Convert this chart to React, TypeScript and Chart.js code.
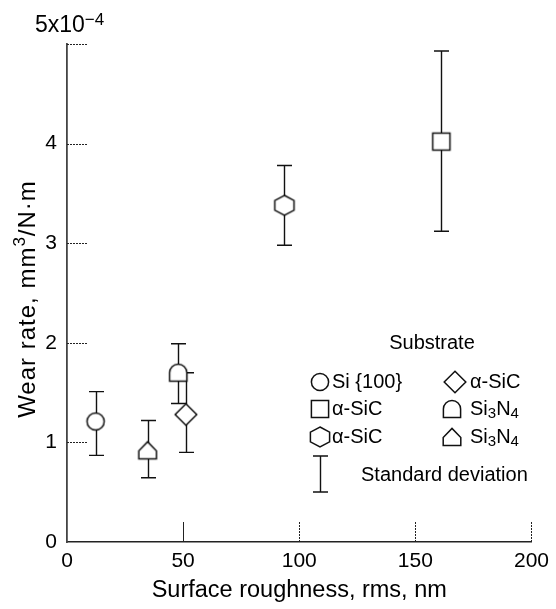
import React, { useEffect, useRef } from "react";
import { Chart, registerables } from "chart.js";

Chart.register(...registerables);

// ---- data (wear rate in units of 1e-4 mm^3/N·m) ----
const markerKinds = ["circle", "square", "hexagon", "diamond", "dome", "house"];
const substrates = ["Si {100}", "α-SiC", "α-SiC", "α-SiC", "Si3N4", "Si3N4"];
const roughness = [12.3, 161.2, 93.6, 51.2, 47.9, 34.7];
const wearRate = [1.21, 4.02, 3.38, 1.28, 1.7, 0.92];
const wearLow = [0.87, 3.12, 2.98, 0.9, 1.39, 0.645];
const wearHigh = [1.51, 4.93, 3.78, 1.7, 1.99, 1.22];
const xTicks = [0, 50, 100, 150, 200];
const yTicks = [0, 1, 2, 3, 4, 5];

const FONT = "'Liberation Sans', Arial, Helvetica, sans-serif";
const INK = "#000";

function makeMarker(kind: string): HTMLCanvasElement {
  const c = document.createElement("canvas");
  c.width = 28;
  c.height = 28;
  const g = c.getContext("2d")!;
  g.translate(14, 14);
  g.lineWidth = 1.5;
  g.strokeStyle = "#111";
  g.fillStyle = "#fff";
  g.beginPath();
  if (kind === "circle") {
    g.arc(0, 0, 8.6, 0, Math.PI * 2);
  } else if (kind === "square") {
    g.rect(-8.6, -8.6, 17.2, 17.2);
  } else if (kind === "hexagon") {
    g.moveTo(0, -10);
    g.lineTo(9.6, -4.8);
    g.lineTo(9.6, 4.8);
    g.lineTo(0, 10);
    g.lineTo(-9.6, 4.8);
    g.lineTo(-9.6, -4.8);
    g.closePath();
  } else if (kind === "diamond") {
    g.moveTo(0, -10.8);
    g.lineTo(10.8, 0);
    g.lineTo(0, 10.8);
    g.lineTo(-10.8, 0);
    g.closePath();
  } else if (kind === "dome") {
    g.moveTo(-8.6, 8.6);
    g.lineTo(-8.6, 0);
    g.arc(0, 0, 8.6, Math.PI, 0);
    g.lineTo(8.6, 8.6);
    g.closePath();
  } else if (kind === "house") {
    g.moveTo(-8.8, 8.6);
    g.lineTo(-8.8, 0.5);
    g.lineTo(0, -8.6);
    g.lineTo(8.8, 0.5);
    g.lineTo(8.8, 8.6);
    g.closePath();
  }
  g.fill();
  g.stroke();
  return c;
}

function drawRichText(ctx: CanvasRenderingContext2D, text: string, x: number, y: number, size: number) {
  ctx.textAlign = "left";
  ctx.textBaseline = "middle";
  if (text === "Si3N4") {
    const parts: [string, boolean][] = [["Si", false], ["3", true], ["N", false], ["4", true]];
    let cx = x;
    for (const [t, sub] of parts) {
      ctx.font = `${sub ? Math.round(size * 0.75) : size}px ${FONT}`;
      ctx.fillText(t, cx, sub ? y + size * 0.22 : y);
      cx += ctx.measureText(t).width;
    }
  } else {
    ctx.font = `${size}px ${FONT}`;
    ctx.fillText(text, x, y);
  }
}

export default function App() {
  const ref = useRef<HTMLCanvasElement>(null);

  useEffect(() => {
    const markers = markerKinds.map(makeMarker);

    const errorBars = {
      id: "errorBars",
      beforeDatasetsDraw(chart: any) {
        const { ctx, scales } = chart;
        const xs = scales.x;
        const ys = scales.y;
        ctx.save();
        ctx.strokeStyle = "#111";
        ctx.lineWidth = 1.4;
        roughness.forEach((xv, i) => {
          const px = Math.round(xs.getPixelForValue(xv)) + 0.5;
          const lo = ys.getPixelForValue(wearLow[i]);
          const hi = ys.getPixelForValue(wearHigh[i]);
          ctx.beginPath();
          ctx.moveTo(px, hi);
          ctx.lineTo(px, lo);
          ctx.moveTo(px - 7.5, hi);
          ctx.lineTo(px + 7.5, hi);
          ctx.moveTo(px - 7.5, lo);
          ctx.lineTo(px + 7.5, lo);
          ctx.stroke();
        });
        ctx.restore();
      },
    };

    const decorations = {
      id: "decorations",
      afterDraw(chart: any) {
        const { ctx, scales, chartArea } = chart;
        const xs = scales.x;
        const ys = scales.y;
        ctx.save();
        ctx.strokeStyle = "#222";
        ctx.lineWidth = 1;
        ctx.setLineDash([2, 1]);
        yTicks.forEach((v) => {
          if (v === 0) return;
          const py = Math.round(ys.getPixelForValue(v)) + 0.5;
          ctx.beginPath();
          ctx.moveTo(chartArea.left, py);
          ctx.lineTo(chartArea.left + 21, py);
          ctx.stroke();
        });
        xTicks.forEach((v) => {
          if (v === 0) return;
          const px = Math.round(xs.getPixelForValue(v)) + 0.5;
          ctx.setLineDash(v === 50 ? [] : [2, 1]);
          ctx.beginPath();
          ctx.moveTo(px, chartArea.bottom);
          ctx.lineTo(px, chartArea.bottom - 20);
          ctx.stroke();
        });
        ctx.setLineDash([]);

        // exponent label
        ctx.fillStyle = INK;
        ctx.textAlign = "left";
        ctx.textBaseline = "alphabetic";
        ctx.font = `23px ${FONT}`;
        ctx.fillText("5x10", 35, 32);
        const w = ctx.measureText("5x10").width;
        ctx.font = `17px ${FONT}`;
        ctx.fillText("\u22124", 35 + w, 25);

        // y-axis title with superscript
        ctx.save();
        ctx.translate(28, 299);
        ctx.rotate(-Math.PI / 2);
        (ctx as any).letterSpacing = "1px";
        ctx.textBaseline = "middle";
        ctx.textAlign = "left";
        const segs: [string, number, number][] = [
          ["Wear rate, mm", 24, 0],
          ["3", 17, -8],
          ["/N·m", 24, 0],
        ];
        let total = 0;
        segs.forEach(([t, s]) => {
          ctx.font = `${s}px ${FONT}`;
          total += ctx.measureText(t).width;
        });
        let cx = -total / 2;
        segs.forEach(([t, s, dy]) => {
          ctx.font = `${s}px ${FONT}`;
          ctx.fillText(t, cx, dy);
          cx += ctx.measureText(t).width;
        });
        ctx.restore();

        // legend
        ctx.fillStyle = INK;
        ctx.textAlign = "center";
        ctx.textBaseline = "middle";
        ctx.font = `20px ${FONT}`;
        ctx.fillText("Substrate", 432, 343);

        const legendItems = [
          { m: 0, x: 320, y: 382, tx: 332 },
          { m: 3, x: 455, y: 382, tx: 470 },
          { m: 1, x: 320, y: 409, tx: 332 },
          { m: 4, x: 452, y: 409, tx: 470 },
          { m: 2, x: 320, y: 437, tx: 332 },
          { m: 5, x: 452, y: 437, tx: 470 },
        ];
        legendItems.forEach((it) => {
          const img = markers[it.m];
          ctx.drawImage(img, it.x - img.width / 2, it.y - img.height / 2);
          drawRichText(ctx, substrates[it.m], it.tx, it.y, 20);
        });

        ctx.strokeStyle = "#111";
        ctx.lineWidth = 1.4;
        ctx.beginPath();
        ctx.moveTo(320.5, 456);
        ctx.lineTo(320.5, 492);
        ctx.moveTo(313, 456);
        ctx.lineTo(328, 456);
        ctx.moveTo(313, 492);
        ctx.lineTo(328, 492);
        ctx.stroke();
        drawRichText(ctx, "Standard deviation", 361, 475, 20);
        ctx.restore();
      },
    };

    const chart = new Chart(ref.current!, {
      type: "scatter",
      data: {
        datasets: markerKinds.map((k, i) => ({
          label: substrates[i],
          data: [{ x: roughness[i], y: wearRate[i] }],
          pointStyle: markers[i] as any,
          pointRadius: 10,
          pointHoverRadius: 10,
          showLine: false,
        })),
      },
      options: {
        responsive: false,
        animation: false,
        events: [],
        layout: { padding: { top: 44, right: 22, left: 0, bottom: 0 } },
        plugins: {
          legend: { display: false },
          tooltip: { enabled: false },
        },
        scales: {
          x: {
            type: "linear",
            min: 0,
            max: 200,
            afterFit: (s: any) => {
              s.height = 67;
            },
            afterBuildTicks: (s: any) => {
              s.ticks = xTicks.map((v) => ({ value: v }));
            },
            grid: { display: false, drawTicks: false },
            border: { display: true, color: "#222", width: 1.5 },
            ticks: {
              padding: 7,
              color: INK,
              font: { family: FONT, size: 21 },
            },
            title: {
              display: true,
              text: "Surface roughness, rms, nm",
              color: INK,
              font: { family: FONT, size: 23.5 },
              padding: { top: 0, bottom: 4 },
            },
          },
          y: {
            type: "linear",
            min: 0,
            max: 5,
            afterFit: (s: any) => {
              s.width = 67;
            },
            afterBuildTicks: (s: any) => {
              s.ticks = yTicks.map((v) => ({ value: v }));
            },
            grid: { display: false, drawTicks: false },
            border: { display: true, color: "#444", width: 1.8 },
            ticks: {
              padding: 10,
              color: INK,
              font: { family: FONT, size: 21 },
              callback: (v: any) => (v === 5 ? "" : String(v)),
            },
            title: { display: false },
          },
        },
      },
      plugins: [errorBars, decorations],
    });
    return () => chart.destroy();
  }, []);

  return (
    <div style={{ position: "fixed", left: 0, top: 0, width: 556, height: 609, background: "#fff" }}>
      <canvas ref={ref} width={556} height={609} style={{ display: "block" }} />
    </div>
  );
}
